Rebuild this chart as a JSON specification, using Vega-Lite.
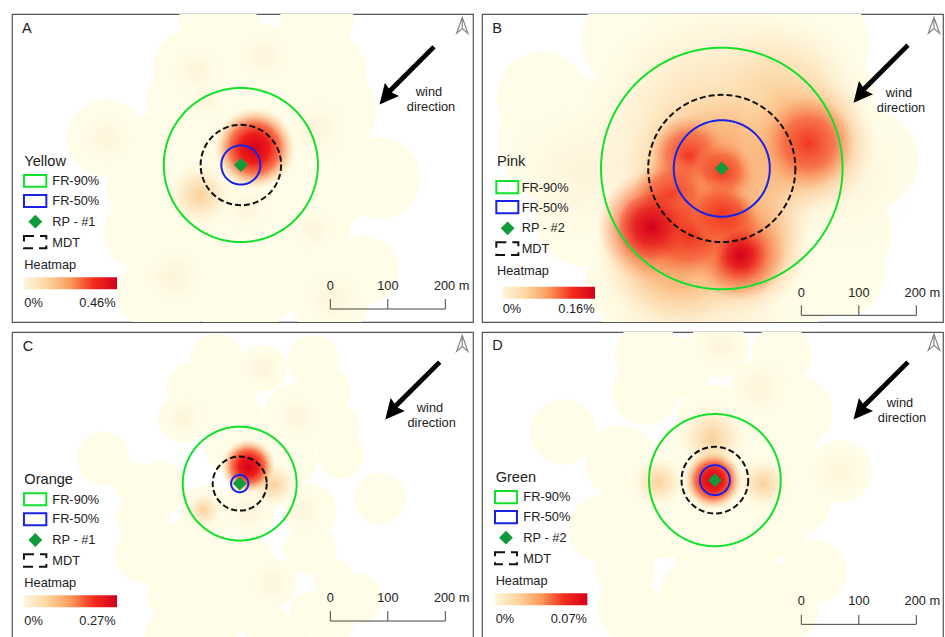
{"$schema":"https://vega.github.io/schema/vega-lite/v6.json","background":"white","padding":{"left":11,"top":12,"right":0,"bottom":0},"config":{"view":{"stroke":"#555","strokeWidth":1.2},"text":{"font":"Liberation Sans"},"header":{"title":null,"labels":false,"labelFontSize":1,"labelPadding":0,"labelColor":"transparent","labelExpr":"''","titlePadding":0}},"data":{"values":[
{"p":"A","k":"base","x":339,"y":525,"r":49},{"p":"A","k":"base","x":530,"y":525,"r":64},{"p":"A","k":"base","x":437,"y":473,"r":46},{"p":"A","k":"base","x":310,"y":444,"r":64},{"p":"A","k":"base","x":298,"y":386,"r":64},{"p":"A","k":"base","x":547,"y":433,"r":70},{"p":"A","k":"base","x":559,"y":369,"r":75},{"p":"A","k":"base","x":162,"y":320,"r":67},{"p":"A","k":"base","x":640,"y":250,"r":70},{"p":"A","k":"base","x":269,"y":282,"r":87},{"p":"A","k":"base","x":234,"y":235,"r":70},{"p":"A","k":"base","x":223,"y":154,"r":64},{"p":"A","k":"base","x":530,"y":160,"r":58},{"p":"A","k":"base","x":281,"y":79,"r":55},{"p":"A","k":"base","x":611,"y":90,"r":61},{"p":"A","k":"base","x":559,"y":38,"r":52},{"p":"A","k":"base","x":269,"y":3,"r":58},{"p":"A","k":"base","x":397,"y":96,"r":116},{"p":"A","k":"base","x":385,"y":270,"r":145},{"p":"A","k":"base","x":501,"y":270,"r":133},{"p":"A","k":"base","x":327,"y":154,"r":116},{"p":"A","k":"base","x":443,"y":154,"r":104},{"p":"A","k":"base","x":553,"y":44,"r":70},{"p":"A","k":"base","x":240,"y":50,"r":58},{"p":"A","k":"base","x":385,"y":502,"r":52},{"p":"A","k":"base","x":431,"y":415,"r":87},
{"p":"A","k":"tint","x":524,"y":160,"r":35},{"p":"A","k":"tint","x":530,"y":334,"r":49},{"p":"A","k":"tint","x":165,"y":320,"r":44},{"p":"A","k":"tint","x":339,"y":386,"r":35},{"p":"A","k":"tint","x":437,"y":462,"r":41},{"p":"A","k":"tint","x":321,"y":438,"r":41},{"p":"A","k":"tint","x":281,"y":79,"r":52},{"p":"A","k":"tint","x":559,"y":38,"r":49},{"p":"A","k":"tint","x":408,"y":201,"r":41},
{"p":"A","k":"soft","x":327,"y":221,"r":58},{"p":"A","k":"hot","x":422,"y":302,"r":72},
{"p":"B","k":"base","x":104,"y":392,"r":78},{"p":"B","k":"base","x":266,"y":491,"r":93},{"p":"B","k":"base","x":423,"y":491,"r":128},{"p":"B","k":"base","x":574,"y":485,"r":99},{"p":"B","k":"base","x":672,"y":282,"r":87},{"p":"B","k":"base","x":626,"y":154,"r":87},{"p":"B","k":"base","x":626,"y":85,"r":75},{"p":"B","k":"base","x":144,"y":317,"r":116},{"p":"B","k":"base","x":179,"y":183,"r":87},{"p":"B","k":"base","x":249,"y":67,"r":70},{"p":"B","k":"base","x":417,"y":270,"r":232},{"p":"B","k":"base","x":510,"y":125,"r":145},{"p":"B","k":"base","x":289,"y":270,"r":174},{"p":"B","k":"base","x":394,"y":38,"r":116},{"p":"B","k":"base","x":568,"y":386,"r":116},{"p":"B","k":"base","x":278,"y":9,"r":70},
{"p":"B","k":"soft","x":417,"y":317,"r":249},{"p":"B","k":"soft","x":347,"y":96,"r":162},{"p":"B","k":"soft","x":521,"y":386,"r":151},{"p":"B","k":"tint","x":626,"y":259,"r":128},{"p":"B","k":"tint","x":173,"y":259,"r":128},{"p":"B","k":"tint","x":452,"y":9,"r":104},
{"p":"B","k":"warm","x":417,"y":247,"r":175},{"p":"B","k":"warm","x":347,"y":143,"r":150},{"p":"B","k":"warm","x":452,"y":131,"r":120},{"p":"B","k":"warm","x":562,"y":311,"r":125},
{"p":"B","k":"red","x":359,"y":290,"r":70},{"p":"B","k":"red","x":417,"y":260,"r":55},{"p":"B","k":"red","x":295,"y":166,"r":95},{"p":"B","k":"red","x":449,"y":117,"r":80},{"p":"B","k":"red","x":568,"y":311,"r":80},{"p":"B","k":"red","x":382,"y":177,"r":75},{"p":"B","k":"red","x":330,"y":218,"r":70},{"p":"B","k":"red","x":430,"y":170,"r":60},{"p":"B","k":"red","x":360,"y":150,"r":80},{"p":"B","k":"red","x":417,"y":190,"r":60},
{"p":"B","k":"core","x":295,"y":166,"r":60},{"p":"B","k":"core","x":449,"y":117,"r":45},
{"p":"C","k":"base","x":356,"y":487,"r":46},{"p":"C","k":"base","x":437,"y":473,"r":41},{"p":"C","k":"base","x":524,"y":484,"r":46},{"p":"C","k":"base","x":315,"y":438,"r":46},{"p":"C","k":"base","x":542,"y":432,"r":46},{"p":"C","k":"base","x":298,"y":386,"r":44},{"p":"C","k":"base","x":495,"y":389,"r":58},{"p":"C","k":"base","x":559,"y":368,"r":46},{"p":"C","k":"base","x":571,"y":322,"r":41},{"p":"C","k":"base","x":159,"y":316,"r":46},{"p":"C","k":"base","x":640,"y":246,"r":45},{"p":"C","k":"base","x":257,"y":264,"r":46},{"p":"C","k":"base","x":228,"y":212,"r":46},{"p":"C","k":"base","x":518,"y":226,"r":46},{"p":"C","k":"base","x":518,"y":159,"r":46},{"p":"C","k":"base","x":228,"y":148,"r":49},{"p":"C","k":"base","x":339,"y":223,"r":46},{"p":"C","k":"base","x":411,"y":223,"r":46},{"p":"C","k":"base","x":350,"y":142,"r":52},{"p":"C","k":"base","x":408,"y":130,"r":52},{"p":"C","k":"base","x":452,"y":99,"r":44},{"p":"C","k":"base","x":281,"y":78,"r":46},{"p":"C","k":"base","x":397,"y":55,"r":44},{"p":"C","k":"base","x":600,"y":72,"r":44},{"p":"C","k":"base","x":553,"y":38,"r":44},{"p":"C","k":"base","x":275,"y":9,"r":44},{"p":"C","k":"base","x":478,"y":3,"r":41},{"p":"C","k":"base","x":443,"y":304,"r":75},{"p":"C","k":"base","x":385,"y":339,"r":52},{"p":"C","k":"base","x":472,"y":316,"r":58},{"p":"C","k":"base","x":304,"y":165,"r":46},{"p":"C","k":"base","x":385,"y":386,"r":52},{"p":"C","k":"base","x":373,"y":432,"r":52},{"p":"C","k":"base","x":211,"y":275,"r":35},{"p":"C","k":"base","x":281,"y":142,"r":58},{"p":"C","k":"base","x":327,"y":177,"r":41},{"p":"C","k":"base","x":385,"y":107,"r":52},{"p":"C","k":"base","x":304,"y":96,"r":46},{"p":"C","k":"base","x":350,"y":26,"r":46},{"p":"C","k":"base","x":443,"y":26,"r":40},{"p":"C","k":"base","x":559,"y":107,"r":35},{"p":"C","k":"base","x":518,"y":49,"r":35},
{"p":"C","k":"tint","x":437,"y":473,"r":35},{"p":"C","k":"tint","x":495,"y":389,"r":35},{"p":"C","k":"tint","x":452,"y":99,"r":35},{"p":"C","k":"tint","x":507,"y":226,"r":35},{"p":"C","k":"tint","x":411,"y":223,"r":38},{"p":"C","k":"tint","x":298,"y":386,"r":36},
{"p":"C","k":"soft","x":333,"y":226,"r":32},{"p":"C","k":"soft","x":455,"y":270,"r":40},{"p":"C","k":"hot","x":411,"y":302,"r":48},
{"p":"D","k":"base","x":289,"y":496,"r":58},{"p":"D","k":"base","x":411,"y":507,"r":52},{"p":"D","k":"base","x":521,"y":496,"r":52},{"p":"D","k":"base","x":481,"y":438,"r":49},{"p":"D","k":"base","x":284,"y":432,"r":58},{"p":"D","k":"base","x":545,"y":397,"r":64},{"p":"D","k":"base","x":141,"y":362,"r":57},{"p":"D","k":"base","x":243,"y":310,"r":64},{"p":"D","k":"base","x":623,"y":293,"r":55},{"p":"D","k":"base","x":545,"y":246,"r":64},{"p":"D","k":"base","x":208,"y":194,"r":58},{"p":"D","k":"base","x":278,"y":235,"r":75},{"p":"D","k":"base","x":405,"y":374,"r":70},{"p":"D","k":"base","x":405,"y":188,"r":81},{"p":"D","k":"base","x":510,"y":200,"r":58},{"p":"D","k":"base","x":249,"y":125,"r":52},{"p":"D","k":"base","x":255,"y":55,"r":55},{"p":"D","k":"base","x":382,"y":72,"r":75},{"p":"D","k":"base","x":579,"y":119,"r":55},{"p":"D","k":"base","x":504,"y":78,"r":58},{"p":"D","k":"base","x":539,"y":49,"r":46},{"p":"D","k":"base","x":359,"y":14,"r":52},{"p":"D","k":"base","x":469,"y":14,"r":52},{"p":"D","k":"base","x":405,"y":281,"r":116},{"p":"D","k":"base","x":312,"y":275,"r":58},{"p":"D","k":"base","x":492,"y":275,"r":58},{"p":"D","k":"base","x":347,"y":473,"r":52},{"p":"D","k":"base","x":510,"y":328,"r":70},{"p":"D","k":"base","x":405,"y":130,"r":70},{"p":"D","k":"base","x":312,"y":188,"r":46},{"p":"D","k":"base","x":469,"y":142,"r":46},{"p":"D","k":"base","x":301,"y":26,"r":46},{"p":"D","k":"base","x":411,"y":26,"r":58},
{"p":"D","k":"tint","x":414,"y":513,"r":46},{"p":"D","k":"tint","x":481,"y":438,"r":49},{"p":"D","k":"tint","x":623,"y":293,"r":52},
{"p":"D","k":"soft","x":400,"y":351,"r":62},{"p":"D","k":"soft","x":307,"y":275,"r":46},{"p":"D","k":"soft","x":489,"y":272,"r":46},{"p":"D","k":"hot","x":402,"y":278,"r":52},
{"p":"A","k":"ring","i":"FR-90%","x":398,"y":273,"r":134},{"p":"A","k":"ring","i":"FR-50%","x":398,"y":273,"r":34},{"p":"A","k":"ring","i":"MDT","x":398,"y":273,"r":70},
{"p":"B","k":"ring","i":"FR-90%","x":417,"y":267,"r":210},{"p":"B","k":"ring","i":"FR-50%","x":417,"y":267,"r":83.5},{"p":"B","k":"ring","i":"MDT","x":417,"y":267,"r":128},
{"p":"C","k":"ring","i":"FR-90%","x":396,"y":272,"r":99},{"p":"C","k":"ring","i":"FR-50%","x":396,"y":272,"r":15},{"p":"C","k":"ring","i":"MDT","x":396,"y":272,"r":47},
{"p":"D","k":"ring","i":"FR-90%","x":405,"y":278,"r":114.5},{"p":"D","k":"ring","i":"FR-50%","x":405,"y":278,"r":26},{"p":"D","k":"ring","i":"MDT","x":405,"y":278,"r":58},
{"p":"A","k":"rp","x":398,"y":273},{"p":"B","k":"rp","x":417,"y":267},{"p":"C","k":"rp","x":396,"y":272},{"p":"D","k":"rp","x":405,"y":278},
{"p":"A","k":"rp","x":40.6,"y":174.5},{"p":"B","k":"rp","x":44.6,"y":162.9},{"p":"C","k":"rp","x":40.6,"y":173.9},{"p":"D","k":"rp","x":41.7,"y":178},
{"p":"A","k":"key","i":"FR-90%","x":20.8,"x2":59.7,"y":235.4,"y2":255.6},{"p":"A","k":"key","i":"FR-50%","x":20.8,"x2":59.7,"y":200,"y2":220.9},{"p":"A","k":"keym","i":"MDT","x":20.8,"x2":59.7,"y":128.1,"y2":149.6},
{"p":"B","k":"key","i":"FR-90%","x":24.9,"x2":63.2,"y":223.8,"y2":245.2},{"p":"B","k":"key","i":"FR-50%","x":24.9,"x2":63.2,"y":189,"y2":210.4},{"p":"B","k":"keym","i":"MDT","x":24.9,"x2":63.2,"y":116.5,"y2":138.6},
{"p":"C","k":"key","i":"FR-90%","x":20.8,"x2":59.7,"y":234.2,"y2":255.1},{"p":"C","k":"key","i":"FR-50%","x":20.8,"x2":59.7,"y":199.4,"y2":220.3},{"p":"C","k":"keym","i":"MDT","x":20.8,"x2":59.7,"y":127.5,"y2":149},
{"p":"D","k":"key","i":"FR-90%","x":22.6,"x2":60.8,"y":237.7,"y2":259.1},{"p":"D","k":"key","i":"FR-50%","x":22.6,"x2":60.8,"y":202.9,"y2":224.3},{"p":"D","k":"keym","i":"MDT","x":22.6,"x2":60.8,"y":131.6,"y2":152.5},
{"p":"A","k":"grad","x":20.8,"x2":182.6,"y":56.8,"y2":77.7},{"p":"B","k":"grad","x":35.9,"x2":196.5,"y":40.6,"y2":61.4},{"p":"C","k":"grad","x":20.8,"x2":182.6,"y":56.8,"y2":77.7},{"p":"D","k":"grad","x":22,"x2":183.2,"y":60.3,"y2":81.2},
{"p":"A","k":"seg","x":553.6,"x2":753.6,"y":22.6,"y2":22.6},{"p":"A","k":"seg","x":553.6,"x2":553.6,"y":22.6,"y2":40},{"p":"A","k":"seg","x":653.6,"x2":653.6,"y":22.6,"y2":40},{"p":"A","k":"seg","x":753.6,"x2":753.6,"y":22.6,"y2":40},
{"p":"B","k":"seg","x":555.3,"x2":755.3,"y":11.6,"y2":11.6},{"p":"B","k":"seg","x":555.3,"x2":555.3,"y":11.6,"y2":29},{"p":"B","k":"seg","x":655.3,"x2":655.3,"y":11.6,"y2":29},{"p":"B","k":"seg","x":755.3,"x2":755.3,"y":11.6,"y2":29},
{"p":"C","k":"seg","x":553.6,"x2":753.6,"y":33,"y2":33},{"p":"C","k":"seg","x":553.6,"x2":553.6,"y":33,"y2":50.4},{"p":"C","k":"seg","x":653.6,"x2":653.6,"y":33,"y2":50.4},{"p":"C","k":"seg","x":753.6,"x2":753.6,"y":33,"y2":50.4},
{"p":"D","k":"seg","x":555.3,"x2":755.3,"y":27.2,"y2":27.2},{"p":"D","k":"seg","x":555.3,"x2":555.3,"y":27.2,"y2":43.5},{"p":"D","k":"seg","x":655.3,"x2":655.3,"y":27.2,"y2":43.5},{"p":"D","k":"seg","x":755.3,"x2":755.3,"y":27.2,"y2":43.5},
{"p":"A","k":"arrow","x":685,"y":428},{"p":"B","k":"arrow","x":692,"y":431},{"p":"C","k":"arrow","x":695,"y":433},{"p":"D","k":"arrow","x":692,"y":433},
{"p":"A","k":"north","x":783,"y":516},{"p":"B","k":"north","x":786,"y":516},{"p":"C","k":"north","x":783,"y":516},{"p":"D","k":"north","x":786,"y":518},
{"p":"A","k":"letter","x":17.4,"y":510,"t":"A"},{"p":"B","k":"letter","x":18,"y":510,"t":"B"},{"p":"C","k":"letter","x":18.5,"y":510,"t":"C"},{"p":"D","k":"letter","x":18,"y":512,"t":"D"},
{"p":"A","k":"title","x":21.4,"y":278.8,"t":"Yellow"},{"p":"B","k":"title","x":26.1,"y":278.8,"t":"Pink"},{"p":"C","k":"title","x":21.4,"y":278.3,"t":"Orange"},{"p":"D","k":"title","x":23.7,"y":282.3,"t":"Green"},
{"p":"A","k":"label","x":70.1,"y":244.6,"t":"FR-90%"},{"p":"A","k":"label","x":70.1,"y":210.4,"t":"FR-50%"},{"p":"A","k":"label","x":70.1,"y":174.5,"t":"RP - #1"},{"p":"A","k":"label","x":70.1,"y":138,"t":"MDT"},{"p":"A","k":"label","x":21.4,"y":99.1,"t":"Heatmap"},{"p":"A","k":"label","x":21.4,"y":33.6,"t":"0%"},{"p":"A","k":"label","x":117,"y":33.6,"t":"0.46%"},
{"p":"B","k":"label","x":69,"y":233.6,"t":"FR-90%"},{"p":"B","k":"label","x":69,"y":198.8,"t":"FR-50%"},{"p":"B","k":"label","x":69,"y":162.9,"t":"RP - #2"},{"p":"B","k":"label","x":69,"y":127,"t":"MDT"},{"p":"B","k":"label","x":26.1,"y":88.7,"t":"Heatmap"},{"p":"B","k":"label","x":35.9,"y":22,"t":"0%"},{"p":"B","k":"label","x":132.7,"y":22,"t":"0.16%"},
{"p":"C","k":"label","x":70.1,"y":244,"t":"FR-90%"},{"p":"C","k":"label","x":70.1,"y":209.9,"t":"FR-50%"},{"p":"C","k":"label","x":70.1,"y":173.9,"t":"RP - #1"},{"p":"C","k":"label","x":70.1,"y":137.4,"t":"MDT"},{"p":"C","k":"label","x":21.4,"y":98.5,"t":"Heatmap"},{"p":"C","k":"label","x":21.4,"y":33,"t":"0%"},{"p":"C","k":"label","x":117,"y":33,"t":"0.27%"},
{"p":"D","k":"label","x":71.9,"y":248.1,"t":"FR-90%"},{"p":"D","k":"label","x":71.9,"y":213.3,"t":"FR-50%"},{"p":"D","k":"label","x":71.9,"y":178,"t":"RP - #2"},{"p":"D","k":"label","x":71.9,"y":140.9,"t":"MDT"},{"p":"D","k":"label","x":23.7,"y":102.6,"t":"Heatmap"},{"p":"D","k":"label","x":23.7,"y":36.5,"t":"0%"},{"p":"D","k":"label","x":119.4,"y":36.5,"t":"0.07%"},
{"p":"A","k":"center","x":725.2,"y":399.4,"t":"wind"},{"p":"A","k":"center","x":728.7,"y":373.3,"t":"direction"},{"p":"B","k":"center","x":725.2,"y":398.8,"t":"wind"},{"p":"B","k":"center","x":728.7,"y":372.7,"t":"direction"},{"p":"C","k":"center","x":726.9,"y":403.5,"t":"wind"},{"p":"C","k":"center","x":729.8,"y":376.8,"t":"direction"},{"p":"D","k":"center","x":726.9,"y":412.2,"t":"wind"},{"p":"D","k":"center","x":730.4,"y":386,"t":"direction"},
{"p":"A","k":"center","x":553.6,"y":62.6,"t":"0"},{"p":"A","k":"center","x":653.6,"y":62.6,"t":"100"},{"p":"A","k":"center","x":764.6,"y":62.6,"t":"200 m"},
{"p":"B","k":"center","x":555.3,"y":51,"t":"0"},{"p":"B","k":"center","x":655.3,"y":51,"t":"100"},{"p":"B","k":"center","x":765.8,"y":51,"t":"200 m"},
{"p":"C","k":"center","x":553.6,"y":72.5,"t":"0"},{"p":"C","k":"center","x":653.6,"y":72.5,"t":"100"},{"p":"C","k":"center","x":764.6,"y":72.5,"t":"200 m"},
{"p":"D","k":"center","x":555.3,"y":67.8,"t":"0"},{"p":"D","k":"center","x":655.3,"y":67.8,"t":"100"},{"p":"D","k":"center","x":765.8,"y":67.8,"t":"200 m"}
]},
"facet":{"field":"p","type":"nominal","header":{"title":null,"labels":false,"labelFontSize":1,"labelPadding":0,"labelColor":"transparent","labelExpr":"''","titlePadding":0}},"columns":2,"spacing":{"row":7,"column":7},
"spec":{"width":461,"height":308,
"encoding":{"x":{"field":"x","type":"quantitative","axis":null,"scale":{"domain":[0,801.7],"nice":false,"zero":false}},"y":{"field":"y","type":"quantitative","axis":null,"scale":{"domain":[0,535.6],"nice":false,"zero":false}}},
"layer":[
{"transform":[{"filter":"datum.k==='base'"}],"mark":{"type":"point","filled":true,"clip":true,"opacity":1,"color":"#FFFDE8"},"encoding":{"size":{"field":"r","type":"quantitative","legend":null,"scale":{"type":"pow","exponent":2,"domain":[0,400],"range":[0,211600]}}}},
{"transform":[{"filter":"datum.k==='tint'"}],"mark":{"type":"point","filled":true,"clip":true,"opacity":1,"fill":{"gradient":"radial","x1":0.5,"y1":0.5,"r1":0,"x2":0.5,"y2":0.5,"r2":0.5,"stops":[{"offset":0,"color":"rgba(250,222,180,0.3)"},{"offset":0.5,"color":"rgba(252,232,200,0.2)"},{"offset":1,"color":"rgba(255,245,220,0)"}]}},"encoding":{"size":{"field":"r","type":"quantitative","legend":null,"scale":{"type":"pow","exponent":2,"domain":[0,400],"range":[0,211600]}}}},
{"transform":[{"filter":"datum.k==='soft'"}],"mark":{"type":"point","filled":true,"clip":true,"opacity":1,"fill":{"gradient":"radial","x1":0.5,"y1":0.5,"r1":0,"x2":0.5,"y2":0.5,"r2":0.5,"stops":[{"offset":0,"color":"rgba(250,200,140,0.85)"},{"offset":0.5,"color":"rgba(252,218,170,0.55)"},{"offset":1,"color":"rgba(255,240,210,0)"}]}},"encoding":{"size":{"field":"r","type":"quantitative","legend":null,"scale":{"type":"pow","exponent":2,"domain":[0,400],"range":[0,211600]}}}},
{"transform":[{"filter":"datum.k==='warm'"}],"mark":{"type":"point","filled":true,"clip":true,"opacity":1,"fill":{"gradient":"radial","x1":0.5,"y1":0.5,"r1":0,"x2":0.5,"y2":0.5,"r2":0.5,"stops":[{"offset":0,"color":"rgba(247,140,80,0.95)"},{"offset":0.55,"color":"rgba(250,175,115,0.7)"},{"offset":1,"color":"rgba(253,225,180,0)"}]}},"encoding":{"size":{"field":"r","type":"quantitative","legend":null,"scale":{"type":"pow","exponent":2,"domain":[0,400],"range":[0,211600]}}}},
{"transform":[{"filter":"datum.k==='red'"}],"mark":{"type":"point","filled":true,"clip":true,"opacity":1,"fill":{"gradient":"radial","x1":0.5,"y1":0.5,"r1":0,"x2":0.5,"y2":0.5,"r2":0.5,"stops":[{"offset":0,"color":"rgba(240,50,30,0.95)"},{"offset":0.55,"color":"rgba(245,85,50,0.65)"},{"offset":1,"color":"rgba(250,160,100,0)"}]}},"encoding":{"size":{"field":"r","type":"quantitative","legend":null,"scale":{"type":"pow","exponent":2,"domain":[0,400],"range":[0,211600]}}}},
{"transform":[{"filter":"datum.k==='core'"}],"mark":{"type":"point","filled":true,"clip":true,"opacity":1,"fill":{"gradient":"radial","x1":0.5,"y1":0.5,"r1":0,"x2":0.5,"y2":0.5,"r2":0.5,"stops":[{"offset":0,"color":"#d4001c"},{"offset":0.5,"color":"rgba(225,15,25,0.7)"},{"offset":1,"color":"rgba(240,40,30,0)"}]}},"encoding":{"size":{"field":"r","type":"quantitative","legend":null,"scale":{"type":"pow","exponent":2,"domain":[0,400],"range":[0,211600]}}}},
{"transform":[{"filter":"datum.k==='hot'"}],"mark":{"type":"point","filled":true,"clip":true,"opacity":1,"fill":{"gradient":"radial","x1":0.5,"y1":0.5,"r1":0,"x2":0.5,"y2":0.5,"r2":0.5,"stops":[{"offset":0,"color":"#d4001c"},{"offset":0.35,"color":"#ee1c18"},{"offset":0.6,"color":"rgba(245,90,50,0.85)"},{"offset":0.8,"color":"rgba(250,170,110,0.5)"},{"offset":1,"color":"rgba(253,220,170,0)"}]}},"encoding":{"size":{"field":"r","type":"quantitative","legend":null,"scale":{"type":"pow","exponent":2,"domain":[0,400],"range":[0,211600]}}}},
{"transform":[{"filter":"datum.k==='ring'"}],"mark":{"type":"point","filled":false,"opacity":1,"strokeWidth":2},"encoding":{"size":{"field":"r","type":"quantitative","legend":null,"scale":{"type":"pow","exponent":2,"domain":[0,400],"range":[0,211600]}},"stroke":{"field":"i","type":"nominal","legend":null,"scale":{"domain":["FR-90%","FR-50%","MDT"],"range":["#12e12c","#1a22e6","#111111"]}},"strokeDash":{"field":"i","type":"nominal","legend":null,"scale":{"domain":["FR-90%","FR-50%","MDT"],"range":[[1,0],[1,0],[6,3]]}}}},
{"transform":[{"filter":"datum.k==='key'"}],"mark":{"type":"rect","fillOpacity":0,"strokeWidth":2},"encoding":{"x2":{"field":"x2"},"y2":{"field":"y2"},"stroke":{"field":"i","type":"nominal","legend":null,"scale":{"domain":["FR-90%","FR-50%","MDT"],"range":["#12e12c","#1a22e6","#111111"]}}}},
{"transform":[{"filter":"datum.k==='keym'"}],"mark":{"type":"rect","fillOpacity":0,"strokeWidth":2,"stroke":"#111111","strokeDash":[10,6]},"encoding":{"x2":{"field":"x2"},"y2":{"field":"y2"}}},
{"transform":[{"filter":"datum.k==='grad'"}],"mark":{"type":"rect","fill":{"gradient":"linear","x1":0,"y1":0,"x2":1,"y2":0,"stops":[{"offset":0,"color":"#fdf5dc"},{"offset":0.25,"color":"#fdd6a0"},{"offset":0.5,"color":"#fb9a5a"},{"offset":0.75,"color":"#f42c1c"},{"offset":1,"color":"#d4001c"}]}},"encoding":{"x2":{"field":"x2"},"y2":{"field":"y2"}}},
{"transform":[{"filter":"datum.k==='rp'"}],"mark":{"type":"point","shape":"diamond","filled":true,"opacity":1,"size":190,"color":"#0f9b3a"}},
{"transform":[{"filter":"datum.k==='seg'"}],"mark":{"type":"rule","color":"#444","strokeWidth":1},"encoding":{"x2":{"field":"x2"},"y2":{"field":"y2"}}},
{"transform":[{"filter":"datum.k==='arrow'"}],"mark":{"type":"point","filled":true,"opacity":1,"color":"#000","size":3600,"shape":"M-0.88 0.95L-0.7 0.23L-0.57 0.42L0.88 -1.02L0.99 -0.91L-0.47 0.55L-0.23 0.67Z"}},
{"transform":[{"filter":"datum.k==='north'"}],"mark":{"type":"point","filled":false,"opacity":1,"color":"#888","strokeWidth":1.2,"size":256,"shape":"M0 -1L0.7 1L0 0.4L-0.7 1ZM0 -1L0 0.4"}},
{"transform":[{"filter":"datum.k==='letter'"}],"mark":{"type":"text","align":"left","baseline":"middle","fontSize":14.5,"color":"#222","font":"Liberation Sans"},"encoding":{"text":{"field":"t"}}},
{"transform":[{"filter":"datum.k==='title'"}],"mark":{"type":"text","align":"left","baseline":"middle","fontSize":14.6,"color":"#222","font":"Liberation Sans"},"encoding":{"text":{"field":"t"}}},
{"transform":[{"filter":"datum.k==='label'"}],"mark":{"type":"text","align":"left","baseline":"middle","fontSize":12.8,"color":"#222","font":"Liberation Sans"},"encoding":{"text":{"field":"t"}}},
{"transform":[{"filter":"datum.k==='center'"}],"mark":{"type":"text","align":"center","baseline":"middle","fontSize":12.8,"color":"#222","font":"Liberation Sans"},"encoding":{"text":{"field":"t"}}}
]}}
